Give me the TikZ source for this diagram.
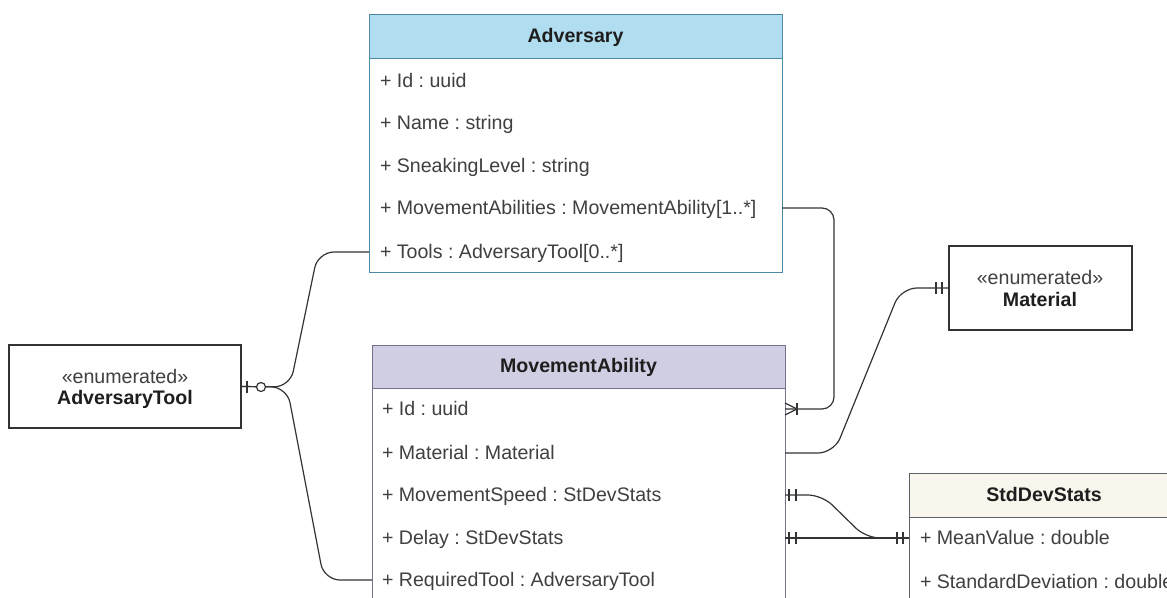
\documentclass[tikz,border=0pt]{standalone}
\usepackage{fontspec}
\setmainfont{Liberation Sans}
\definecolor{advfill}{HTML}{B1DDF0}
\definecolor{advline}{HTML}{4B89A6}
\definecolor{mvfill}{HTML}{D0CEE2}
\definecolor{mvline}{HTML}{75708F}
\definecolor{sdfill}{HTML}{F9F7ED}
\definecolor{sdline}{HTML}{5E6166}
\definecolor{enumline}{HTML}{333333}
\definecolor{linkc}{HTML}{333333}
\definecolor{txt}{HTML}{404040}
\definecolor{head}{HTML}{1E1E1E}
\begin{document}
\frenchspacing
\begin{tikzpicture}[x=1pt,y=-1pt,
  every node/.style={font=\fontsize{19.6}{22}\selectfont, text=txt, inner sep=0pt, outer sep=0pt},
  attr/.style={anchor=west, text height=12pt, text depth=0pt},
  classbody/.style={draw, fill=white, anchor=north west, line width=1pt},
  classhead/.style={draw, anchor=north west, line width=1pt, text height=12pt, text depth=0pt,
    font=\fontsize{19.6}{22}\selectfont\bfseries, text=head},
  enumbox/.style={draw=enumline, fill=white, line width=1.2pt, anchor=north west},
  enumtag/.style={text height=12pt, text depth=0pt},
  enumname/.style={text height=12pt, text depth=0pt, font=\fontsize{19.6}{22}\selectfont\bfseries, text=head},
  link/.style={draw=linkc, line width=1.2pt, rounded corners=14pt},
  tick/.style={draw=linkc, line width=1.2pt}
]
\clip (0,0) rectangle (1167,597);
\fill[white] (0,0) rectangle (1167,597);

% Adversary class
\node[classbody, draw=advline, minimum width=413pt, minimum height=258pt] (adv) at (369,14) {};
\node[classhead, draw=advline, fill=advfill, minimum width=413pt, minimum height=44pt] (advh) at (369,14) {Adversary};
\node[attr] (advId)    at (380,81)  {+ Id : uuid};
\node[attr] (advName)  at (380,123) {+ Name : string};
\node[attr] (advSneak) at (380,166) {+ SneakingLevel : string};
\node[attr] (advMA)    at (380,208) {+ MovementAbilities : MovementAbility[1..*]};
\node[attr] (advTools) at (380,252) {+ Tools : AdversaryTool[0..*]};

% MovementAbility class (continues below the visible area)
\node[classbody, draw=mvline, minimum width=413pt, minimum height=290pt] (mv) at (372,345) {};
\node[classhead, draw=mvline, fill=mvfill, minimum width=413pt, minimum height=43pt] (mvh) at (372,345) {MovementAbility};
\node[attr] (mvId)    at (382,409) {+ Id : uuid};
\node[attr] (mvMat)   at (382,453) {+ Material : Material};
\node[attr] (mvSpeed) at (382,495) {+ MovementSpeed : StDevStats};
\node[attr] (mvDelay) at (382,538) {+ Delay : StDevStats};
\node[attr] (mvReq)   at (382,580) {+ RequiredTool : AdversaryTool};

% StdDevStats class
\node[classbody, draw=sdline, minimum width=270pt, minimum height=170pt] (sd) at (909,473) {};
\node[classhead, draw=sdline, fill=sdfill, minimum width=270pt, minimum height=44pt] (sdh) at (909,473) {StdDevStats};
\node[attr] (sdMean) at (920,538) {+ MeanValue : double};
\node[attr] (sdStd)  at (920,582) {+ StandardDeviation : double};

% Enumerations
\node[enumbox, minimum width=183pt, minimum height=84pt] (mat) at (949,246) {};
\node[enumtag]  (matTag)  at (1040,278) {«enumerated»};
\node[enumname] (matName) at (1040,300) {Material};

\node[enumbox, minimum width=232pt, minimum height=83pt] (tool) at (9,345) {};
\node[enumtag]  (toolTag)  at (125,377) {«enumerated»};
\node[enumname] (toolName) at (125,398) {AdversaryTool};

% Adversary.MovementAbilities -> MovementAbility (one to many)
\draw[link, rounded corners=12pt] (adv.east |- advMA) -- (834,208) -- (834,409) -- (mv.east |- mvId);
\draw[tick] (797,403) -- (797,415);
\draw[tick] (797,409) -- (785,403);
\draw[tick] (797,409) -- (785,415);

% MovementAbility.Material -> Material
\draw[link, rounded corners=16pt] (mv.east |- mvMat) -- (834,453) -- (901,288) -- (mat.west);
\draw[tick] (936,282) -- (936,294);
\draw[tick] (942,282) -- (942,294);

% AdversaryTool -> Adversary.Tools and MovementAbility.RequiredTool
\draw[link, rounded corners=16pt] (tool.east) -- (290,387) -- (318,252) -- (adv.west |- advTools);
\draw[link, rounded corners=16pt] (tool.east) -- (287,387) -- (324,580) -- (mv.west |- mvReq);
\draw[tick] (247,381) -- (247,393);
\draw[tick, fill=white] (261,387) circle (4.5);

% MovementSpeed / Delay -> StdDevStats
\draw[link, rounded corners=14pt] (mv.east |- mvSpeed) -- (822,495) -- (866,538) -- (sd.west |- sdMean);
\draw[link] (mv.east |- mvDelay) -- (sd.west |- sdMean);
\draw[tick] (789,489) -- (789,501);
\draw[tick] (796,489) -- (796,501);
\draw[tick] (789,532) -- (789,544);
\draw[tick] (796,532) -- (796,544);
\draw[tick] (897,532) -- (897,544);
\draw[tick] (903,532) -- (903,544);
\end{tikzpicture}
\end{document}
